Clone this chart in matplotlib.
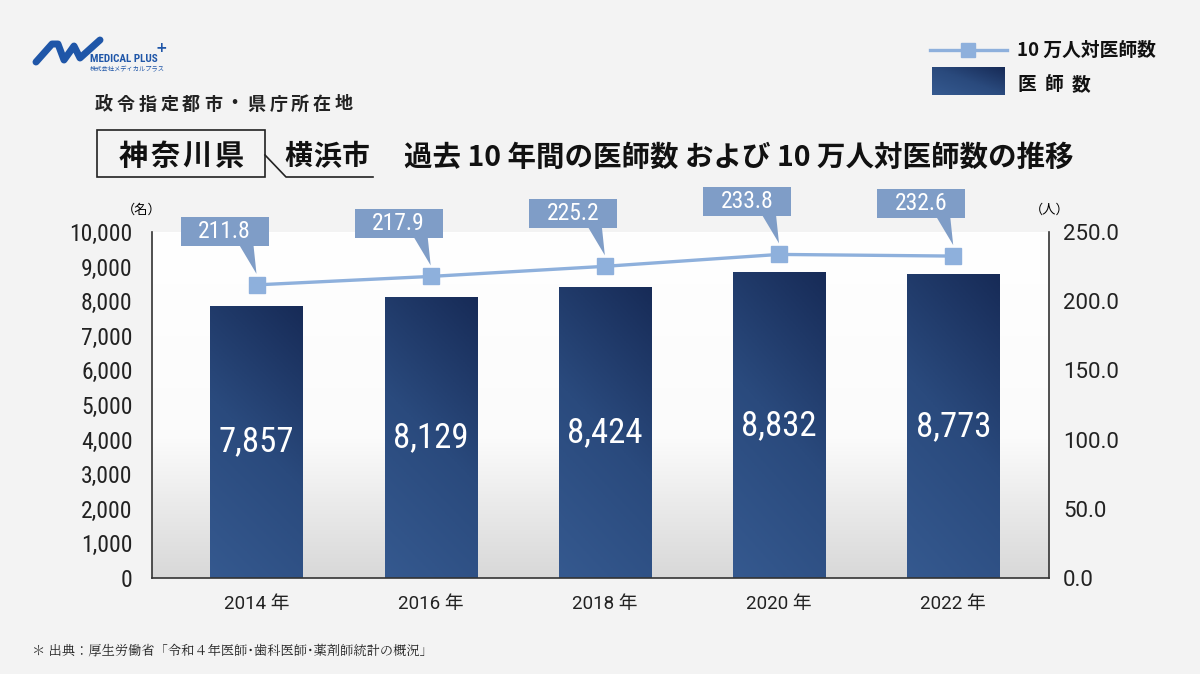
import matplotlib
matplotlib.use("Agg")
import matplotlib.pyplot as plt
import numpy as np
from matplotlib.patches import Rectangle, Polygon
from matplotlib.lines import Line2D
from matplotlib.transforms import ScaledTranslation
from matplotlib.colors import LinearSegmentedColormap

# data
years = ["2014", "2016", "2018", "2020", "2022"]
doctors = [7857, 8129, 8424, 8832, 8773]
per_100k = [211.8, 217.9, 225.2, 233.8, 232.6]
left_ticks = [0, 1000, 2000, 3000, 4000, 5000, 6000, 7000, 8000, 9000, 10000]
right_ticks = [0, 50, 100, 150, 200, 250]

JP = ["Noto Sans CJK JP", "DejaVu Sans"]
SERIF_JP = ["Noto Serif CJK JP", "Noto Serif JP", "Noto Sans CJK JP", "DejaVu Sans"]
NUM = ["Roboto Condensed", "Archivo Narrow", "Liberation Sans Narrow", "Roboto", "DejaVu Sans"]
NUMJP = ["Roboto", "Noto Sans CJK JP", "DejaVu Sans"]
plt.rcParams["font.family"] = JP

bg = "#f3f3f3"
line_c = "#8eb0dc"
box_c = "#7f9dc7"
bar_cmap = LinearSegmentedColormap.from_list("bar", ["#35598f", "#2a4a7d", "#172b57"])
area_cmap = LinearSegmentedColormap.from_list(
    "area", [(0, "#d8d8d8"), (0.4, "#fbfbfb"), (1, "#ffffff")])

fig = plt.figure(figsize=(12, 6.74), dpi=100, facecolor=bg)


def fx(px):
    return px / 1200


def fy(py):
    return 1 - py / 674


def spaced(x0, y0, s, step, **kw):
    # one char at a time, to get the wide letter spacing of the original
    for k, ch in enumerate(s):
        fig.text(fx(x0 + k * step), fy(y0), ch, ha="center", va="center", **kw)


ax = fig.add_axes([fx(152), fy(578), (1049 - 152) / 1200, (578 - 232) / 674])
ax2 = ax.twinx()
ax.set_zorder(1)
ax2.set_zorder(2)
ax.patch.set_visible(False)
ax2.patch.set_visible(False)

# plot area gradient
grad = np.linspace(0, 1, 256).reshape(-1, 1)
ax.imshow(grad, cmap=area_cmap, origin="lower", extent=[0, 1, 0, 1],
          transform=ax.transAxes, aspect="auto", zorder=0)

x = np.arange(len(years))
bw = 0.53
bars = ax.bar(x, doctors, width=bw, color="none", edgecolor="none", zorder=2)
gx, gy = np.meshgrid(np.linspace(0, 0.25, 50), np.linspace(0, 0.75, 256))
bar_grad = gx + gy
for b, v in zip(bars, doctors):
    im = ax.imshow(bar_grad, cmap=bar_cmap, origin="lower", aspect="auto",
                   vmin=0, vmax=1,
                   extent=[b.get_x(), b.get_x() + b.get_width(), 0, b.get_height()],
                   zorder=2)
    im.set_clip_path(b)
    ax.text(b.get_x() + b.get_width() / 2, v / 2, f"{v:,}", color="white",
            ha="center", va="center", fontsize=25, family=NUM, zorder=3)

ax.set_xlim(-0.6, 4.55)
ax.set_ylim(0, 10000)
ax.set_yticks(left_ticks)
ax.set_yticklabels([f"{t:,}" for t in left_ticks], family=NUM, fontsize=17)
ax.set_xticks(x)
ax.set_xticklabels([f"{y} 年" for y in years], family=NUMJP, fontsize=13.5)
ax.tick_params(axis="y", length=0, pad=14, colors="#222222")
ax.tick_params(axis="x", length=0, pad=12, colors="#222222")

ax2.set_ylim(0, 250)
ax2.set_yticks(right_ticks)
ax2.set_yticklabels([f"{t:.1f}" for t in right_ticks], family=NUMJP, fontsize=16)
ax2.tick_params(axis="y", length=0, pad=10, colors="#222222")

for a in (ax, ax2):
    a.spines["top"].set_visible(False)
    for s in a.spines.values():
        s.set_color("#333333")
        s.set_linewidth(1.2)
ax.spines["right"].set_visible(False)
ax2.spines["left"].set_visible(False)
ax2.spines["bottom"].set_visible(False)

ax2.plot(x, per_100k, color=line_c, lw=2.4, marker="s", ms=12,
         markerfacecolor=line_c, markeredgecolor=line_c, zorder=4)
ax2.set_xlim(-0.6, 4.55)

# callouts (inch offsets from each marker)
for xi, v in zip(x, per_100k):
    tr = fig.dpi_scale_trans + ScaledTranslation(xi, v, ax2.transData)
    cx, cy, w, h = -0.32, 0.53, 0.88, 0.29
    ax2.add_patch(Rectangle((cx - w / 2, cy - h / 2), w, h, transform=tr,
                            fc=box_c, ec="none", zorder=5, clip_on=False))
    ax2.add_patch(Polygon([(-0.17, cy - h / 2 + 0.01), (-0.03, cy - h / 2 + 0.01), (0.0, 0.11)],
                          closed=True, transform=tr, fc=box_c, ec="none",
                          zorder=5, clip_on=False))
    ax2.text(cx, cy, f"{v:.1f}", transform=tr, color="white", ha="center",
             va="center", fontsize=17, family=NUM, zorder=6, clip_on=False)

# unit labels
fig.text(fx(142), fy(210), "（名）", fontsize=9.5, ha="center", va="center")
fig.text(fx(1050), fy(210), "（人）", fontsize=9.5, ha="center", va="center")

# headings
spaced(104, 104, "政令指定都市・県庁所在地", 21.8, fontsize=13, fontweight="bold",
       color="#222222")
fig.add_artist(Rectangle((fx(97), fy(177)), 168 / 1200, 47 / 674,
                         transform=fig.transFigure, fill=False, ec="#222222", lw=1.2))
spaced(133, 156, "神奈川県", 32, fontsize=21, fontweight="bold", color="#111111")
fig.add_artist(Line2D([fx(265), fx(286), fx(373)], [fy(155), fy(177), fy(177)],
                      transform=fig.transFigure, color="#222222", lw=1.2))
spaced(298, 157, "横浜市", 29, fontsize=20, fontweight="bold", color="#111111")
fig.text(fx(404), fy(158), "過去 10 年間の医師数 および 10 万人対医師数の推移",
         fontsize=20.5, fontweight="bold", va="center", color="#111111")

# legend
fig.add_artist(Line2D([fx(930), fx(1007)], [fy(50), fy(50)],
                      transform=fig.transFigure, color=line_c, lw=2.4))
fig.add_artist(Line2D([fx(968)], [fy(50)], transform=fig.transFigure,
                      marker="s", ms=10, color=line_c))
fig.text(fx(1017), fy(50), "10 万人対医師数", fontsize=13.5,
         fontweight="bold", va="center", color="#111111")
lax = fig.add_axes([fx(932), fy(95), 72 / 1200, 28 / 674])
lgx, lgy = np.meshgrid(np.linspace(0, 0.5, 50), np.linspace(0, 0.5, 20))
lax.imshow(lgx + lgy, cmap=bar_cmap, origin="lower", aspect="auto", vmin=0, vmax=1)
lax.axis("off")
spaced(1027, 85, "医師数", 27, fontsize=13.5, fontweight="bold", color="#111111")

# logo
logo_c = "#1f56a8"
fig.add_artist(Line2D(np.array([36, 52, 58, 64, 74, 80, 100]) / 1200,
                      1 - np.array([62, 44, 44, 60, 46, 58, 40]) / 674,
                      transform=fig.transFigure, color=logo_c, lw=5,
                      solid_capstyle="round", solid_joinstyle="round"))
fig.text(fx(90), fy(59), "MEDICAL PLUS", fontsize=8, fontweight="bold",
         color=logo_c, family=NUM, va="center")
fig.text(fx(161), fy(48), "+", fontsize=10, fontweight="bold",
         color=logo_c, va="center", ha="center", family=["DejaVu Sans"])
fig.text(fx(90), fy(69), "株式会社メディカルプラス", fontsize=4.5,
         color=logo_c, va="center")

# source
fig.text(fx(32), fy(650),
         "＊ 出典：厚生労働省「令和４年医師･歯科医師･薬剤師統計の概況」",
         fontsize=9.5, va="center", color="#222222", family=SERIF_JP)

fig.savefig("out.png", dpi=100, facecolor=bg)
